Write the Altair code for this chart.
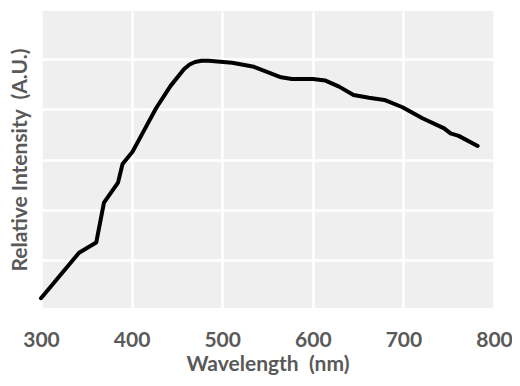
import altair as alt
import pandas as pd

wavelength = [300, 342, 361, 369.5, 385, 390, 401, 412, 427, 443, 458, 464, 470, 477, 485,
              511, 535, 565, 577, 600, 614, 629, 645, 662, 679, 699, 721, 745, 752, 761, 782]
intensity = [0.048, 0.229, 0.270, 0.428, 0.508, 0.582, 0.631, 0.704, 0.804, 0.893, 0.960, 0.978,
             0.988, 0.993, 0.993, 0.985, 0.969, 0.927, 0.920, 0.920, 0.914, 0.890, 0.857, 0.846,
             0.837, 0.808, 0.764, 0.724, 0.704, 0.694, 0.654]
x_ticks = [300, 400, 500, 600, 700, 800]
y_grid = [0.2, 0.4, 0.6, 0.8, 1.0]

df = pd.DataFrame({"wl": wavelength, "val": intensity})

font = "Lato"
gray = "#595959"

chart = alt.Chart(df).mark_line(
    color="black", strokeWidth=4, strokeCap="round", strokeJoin="round"
).encode(
    x=alt.X("wl:Q", scale=alt.Scale(domain=[300, 800], nice=False, zero=False),
            axis=alt.Axis(values=x_ticks, title="Wavelength\u00a0\u00a0(nm)", tickSize=0,
                          domain=False, labelFlush=False, labelPadding=21, titlePadding=3,
                          grid=True)),
    y=alt.Y("val:Q", scale=alt.Scale(domain=[0.009, 1.191], nice=False, zero=False),
            axis=alt.Axis(values=y_grid, title="Relative Intensity\u00a0\u00a0(A.U.)",
                          labels=False, tickSize=0, domain=False, titlePadding=10, grid=True)),
).properties(
    width=453, height=297,
    background="white",
    autosize=alt.AutoSizeParams(type="none"),
    padding={"left": 33, "top": 3, "right": 18, "bottom": 78},
).configure_view(
    fill="#efefef", stroke=None
).configure_axis(
    gridColor="white", gridWidth=2.5, gridOpacity=1,
    labelFont=font, labelFontSize=21, labelFontWeight="bold", labelColor=gray,
    titleFont=font, titleFontSize=21, titleFontWeight="bold", titleColor=gray,
)

chart.save("out.html", embed_options={"renderer": "svg", "actions": False})
